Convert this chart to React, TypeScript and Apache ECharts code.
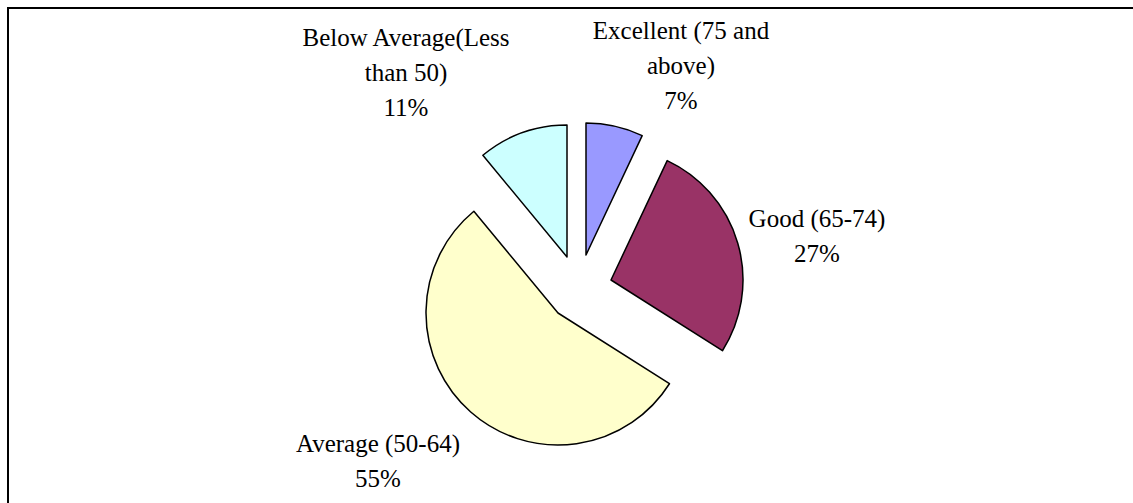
import React, { useEffect, useRef } from "react";
import * as echarts from "echarts";

const categories = [
  "Excellent (75 and\nabove)",
  "Good (65-74)",
  "Average (50-64)",
  "Below Average(Less\nthan 50)",
];
const shares = [7, 27, 55, 11];
const sliceColors = ["#9999FF", "#993366", "#FFFFCC", "#CCFFFF"];

// where each exploded slice's apex sits, and where its label sits (pixels)
const sliceCenters: [number, number][] = [
  [586, 255],
  [611, 280],
  [558, 313],
  [567, 257],
];
const labelSpots: [number, number][] = [
  [681, 65],
  [817, 236],
  [378, 461],
  [406, 72],
];

export default function App() {
  const ref = useRef<HTMLDivElement>(null);
  useEffect(() => {
    if (!ref.current) return;
    const chart = echarts.init(ref.current, undefined, { renderer: "svg" });
    const series = categories.map((_, si) => ({
      type: "pie",
      center: sliceCenters[si],
      radius: 132,
      startAngle: 90,
      clockwise: true,
      silent: true,
      avoidLabelOverlap: false,
      percentPrecision: 0,
      label: {
        show: true,
        formatter: "{b}\n{d}%",
        fontFamily: "Liberation Serif",
        fontSize: 25,
        lineHeight: 35,
        color: "#000",
        align: "center",
      },
      labelLine: { show: false },
      labelLayout: {
        x: labelSpots[si][0],
        y: labelSpots[si][1],
        align: "center",
        verticalAlign: "middle",
      },
      emphasis: { disabled: true },
      data: categories.map((name, di) => ({
        name,
        value: shares[di],
        itemStyle:
          di === si
            ? { color: sliceColors[di], borderColor: "#000", borderWidth: 1.5 }
            : { color: "rgba(0,0,0,0)", borderWidth: 0 },
        label: { show: di === si },
      })),
    }));
    chart.setOption({
      animation: false,
      backgroundColor: "#fff",
      graphic: [
        {
          type: "line",
          shape: { x1: 7, y1: 8, x2: 1133, y2: 8 },
          style: { stroke: "#000", lineWidth: 2 },
        },
        {
          type: "line",
          shape: { x1: 8, y1: 7, x2: 8, y2: 503 },
          style: { stroke: "#000", lineWidth: 2 },
        },
      ],
      series,
    });
    return () => chart.dispose();
  }, []);
  return (
    <div
      ref={ref}
      style={{ position: "absolute", left: 0, top: 0, width: 1133, height: 503 }}
    />
  );
}
